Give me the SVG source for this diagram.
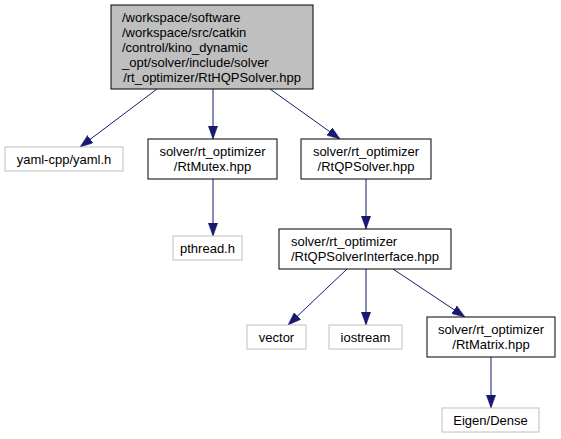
<svg xmlns="http://www.w3.org/2000/svg" width="561" height="439" viewBox="0 0 561 439">
<style>
text{font-family:"Liberation Sans",Arial,sans-serif;font-size:13px;fill:#000}
.c{text-anchor:middle}
.n rect{fill:#fff;stroke:#000;stroke-width:1}
.g rect{fill:#fff;stroke:#bfbfbf;stroke-width:1}
.m rect{fill:#bfbfbf;stroke:#000;stroke-width:1}
.e line{stroke:#191970;stroke-width:1;marker-end:url(#a)}
</style>
<defs>
<marker id="a" markerUnits="userSpaceOnUse" markerWidth="13" markerHeight="9.4" refX="13" refY="4.7" orient="auto">
<path d="M0,0 L13,4.7 L0,9.4 z" fill="#191970" stroke="#191970" stroke-width="0.5"/>
</marker>
</defs>
<g id="connectors" class="e">
<line x1="157" y1="89" x2="80" y2="147"/>
<line x1="213" y1="89" x2="213" y2="139"/>
<line x1="270" y1="89" x2="340" y2="139"/>
<line x1="213" y1="179" x2="213" y2="236"/>
<line x1="366" y1="179" x2="366" y2="229"/>
<line x1="347" y1="269" x2="288" y2="325"/>
<line x1="366" y1="269" x2="366" y2="325"/>
<line x1="393" y1="269" x2="465" y2="317"/>
<line x1="491" y1="357" x2="491" y2="408"/>
</g>
<g id="main" class="m">
<rect x="111" y="5" width="202" height="84"/>
<text x="122" y="22">/workspace/software</text>
<text x="122" y="37">/workspace/src/catkin</text>
<text x="122" y="52">/control/kino_dynamic</text>
<text x="122" y="67">_opt/solver/include/solver</text>
<text x="212" y="82" class="c">/rt_optimizer/RtHQPSolver.hpp</text>
</g>
<g id="yaml" class="g">
<rect x="5" y="147" width="118" height="24"/>
<text x="64" y="163.5" class="c">yaml-cpp/yaml.h</text>
</g>
<g id="rtmutex" class="n">
<rect x="148" y="139" width="129" height="40"/>
<text x="212.5" y="156.2" class="c">solver/rt_optimizer</text>
<text x="212.5" y="171.2" class="c">/RtMutex.hpp</text>
</g>
<g id="rtqpsolver" class="n">
<rect x="301" y="139" width="130" height="40"/>
<text x="366" y="156.2" class="c">solver/rt_optimizer</text>
<text x="366" y="171.2" class="c">/RtQPSolver.hpp</text>
</g>
<g id="pthread" class="g">
<rect x="173" y="236" width="69" height="24"/>
<text x="207.5" y="252.5" class="c">pthread.h</text>
</g>
<g id="interface" class="n">
<rect x="279" y="229" width="172" height="40"/>
<text x="291" y="246.2">solver/rt_optimizer</text>
<text x="365" y="261.2" class="c">/RtQPSolverInterface.hpp</text>
</g>
<g id="vector" class="g">
<rect x="247" y="325" width="59" height="24"/>
<text x="276.5" y="341.5" class="c">vector</text>
</g>
<g id="iostream" class="g">
<rect x="329" y="325" width="73" height="24"/>
<text x="365.5" y="341.5" class="c">iostream</text>
</g>
<g id="rtmatrix" class="n">
<rect x="427" y="317" width="128" height="40"/>
<text x="491" y="334.2" class="c">solver/rt_optimizer</text>
<text x="491" y="349.2" class="c">/RtMatrix.hpp</text>
</g>
<g id="eigen" class="g">
<rect x="442" y="408" width="97" height="24"/>
<text x="490.5" y="424.5" class="c">Eigen/Dense</text>
</g>
</svg>
